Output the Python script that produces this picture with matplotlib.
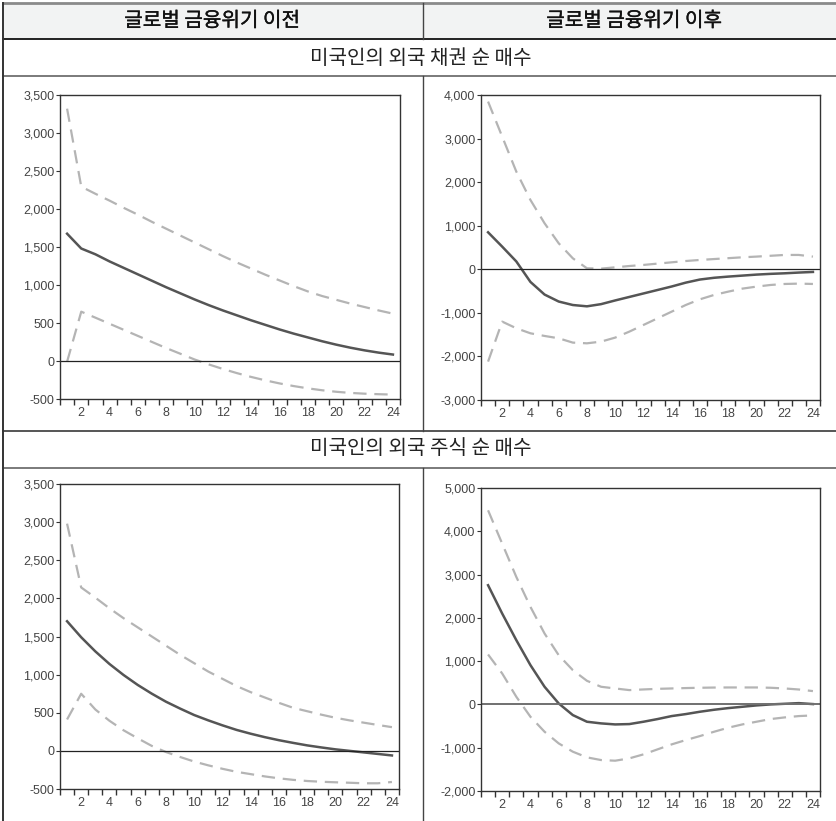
import matplotlib
matplotlib.use("Agg")
import matplotlib.pyplot as plt
import matplotlib.patheffects as pe
from matplotlib.lines import Line2D
from matplotlib.patches import Rectangle
from matplotlib.ticker import FuncFormatter, FixedLocator

W, H = 836, 821

# chart data (periods 1..24)
periods = list(range(1, 25))

header_left = "글로벌 금융위기 이전"
header_right = "글로벌 금융위기 이후"
row1_title = "미국인의 외국 채권 순 매수"
row2_title = "미국인의 외국 주식 순 매수"

# bonds, before crisis
bond_pre_mid = [1675, 1480, 1404, 1310, 1225, 1140, 1055, 970, 890, 810,
                735, 665, 600, 535, 475, 415, 360, 310, 260, 215,
                175, 140, 110, 85]
bond_pre_hi = [3320, 2294, 2200, 2110, 2015, 1925, 1830, 1740, 1650, 1560,
               1470, 1380, 1295, 1215, 1135, 1060, 985, 915, 855, 805,
               755, 710, 665, 623]
bond_pre_lo = [-10, 649, 570, 490, 410, 330, 250, 170, 95, 20,
               -45, -105, -160, -210, -255, -295, -330, -360, -385, -405,
               -420, -430, -437, -442]

# bonds, after crisis
bond_post_mid = [849, 520, 180, -290, -580, -740, -820, -850, -800, -715,
                 -635, -555, -475, -395, -306, -235, -195, -168, -145, -122,
                 -105, -92, -75, -61]
bond_post_hi = [3849, 3045, 2242, 1591, 1056, 597, 252, 23, 15, 45,
                75, 100, 130, 160, 190, 214, 235, 255, 275, 291,
                310, 329, 329, 291]
bond_post_lo = [-2119, -1201, -1354, -1469, -1530, -1584, -1683, -1699, -1660, -1568,
                -1431, -1278, -1125, -972, -819, -689, -589, -513, -444, -398,
                -360, -337, -329, -337]

# equities, before crisis
eq_pre_mid = [1700, 1490, 1305, 1140, 995, 865, 750, 645, 555, 470,
              400, 335, 275, 225, 180, 140, 105, 72, 45, 20,
              0, -20, -40, -60]
eq_pre_hi = [2980, 2143, 2010, 1870, 1740, 1620, 1500, 1380, 1260, 1150,
             1040, 945, 850, 770, 700, 630, 565, 520, 475, 434,
             400, 370, 340, 311]
eq_pre_lo = [412, 749, 543, 395, 270, 165, 65, -15, -80, -140,
             -190, -235, -275, -305, -335, -360, -380, -395, -405, -412,
             -418, -425, -425, -408]

# equities, after crisis
eq_post_mid = [2754, 2100, 1485, 908, 408, 23, -246, -400, -438, -462,
               -454, -400, -338, -269, -223, -169, -123, -85, -54, -23,
               0, 15, 30, 8]
eq_post_hi = [4485, 3715, 2946, 2254, 1638, 1138, 792, 546, 408, 369,
              331, 346, 360, 369, 378, 385, 390, 392, 392, 392,
              385, 369, 345, 308]
eq_post_lo = [1154, 715, 177, -285, -631, -900, -1092, -1223, -1285, -1300,
              -1246, -1154, -1038, -923, -823, -731, -631, -538, -462, -400,
              -338, -300, -269, -254]

ylims = [(-500, 3500), (-3000, 4000), (-500, 3500), (-2000, 5000)]
ysteps = [500, 1000, 500, 1000]

# panel boxes in pixels: left, top, right, bottom
boxes = [(60, 95, 400, 399), (481, 95, 820, 400),
         (60, 484, 399, 789), (481, 488, 820, 791)]

series = [(bond_pre_mid, bond_pre_hi, bond_pre_lo),
          (bond_post_mid, bond_post_hi, bond_post_lo),
          (eq_pre_mid, eq_pre_hi, eq_pre_lo),
          (eq_post_mid, eq_post_hi, eq_post_lo)]

fig = plt.figure(figsize=(W / 100, H / 100), dpi=100)
fig.patch.set_facecolor("white")


def fx(px):
    return px / W


def fy(py):
    return 1 - py / H


def hline(y, x0, x1, color, lw):
    fig.add_artist(Line2D([fx(x0), fx(x1)], [fy(y), fy(y)], color=color, lw=lw,
                          transform=fig.transFigure))


def vline(x, y0, y1, color, lw):
    fig.add_artist(Line2D([fx(x), fx(x)], [fy(y0), fy(y1)], color=color, lw=lw,
                          transform=fig.transFigure))


# table frame
fig.add_artist(Rectangle((fx(3), fy(39)), fx(836) - fx(3), fy(3) - fy(39),
                         transform=fig.transFigure, facecolor="#f2f3f3",
                         edgecolor="none"))
hline(3, 3, 836, "#8a8a8a", 2.0)
hline(39, 3, 836, "#222222", 1.4)
hline(76, 3, 836, "#7a7a7a", 1.4)
hline(431, 3, 836, "#555555", 1.4)
hline(468, 3, 836, "#7a7a7a", 1.4)
vline(3, 3, 821, "#333333", 1.4)
vline(423, 3, 39, "#444444", 1.0)
vline(423, 76, 431, "#444444", 1.0)
vline(423, 468, 821, "#444444", 1.0)

kfont = ["Noto Sans CJK KR", "DejaVu Sans"]
# header a touch heavier than the row titles
heavy = [pe.withStroke(linewidth=0.25, foreground="#111111")]
fig.text(fx(212), fy(21), header_left, ha="center", va="center", fontsize=14.5,
         family=kfont, color="#111111", path_effects=heavy)
fig.text(fx(634), fy(21), header_right, ha="center", va="center", fontsize=14.5,
         family=kfont, color="#111111", path_effects=heavy)
fig.text(fx(421), fy(58), row1_title, ha="center", va="center", fontsize=14.5,
         family=kfont, color="#222222")
fig.text(fx(421), fy(449), row2_title, ha="center", va="center", fontsize=14.5,
         family=kfont, color="#222222")

comma = FuncFormatter(lambda v, p: f"{int(v):,}")

for i, ((l, t, r, b), (mid, hi, lo), ylim, step) in enumerate(
        zip(boxes, series, ylims, ysteps)):
    ax = fig.add_axes([fx(l), fy(b), (r - l) / W, (b - t) / H])
    ax.plot(periods, hi, color="#b4b4b4", lw=1.6, dashes=(6, 3.5))
    ax.plot(periods, lo, color="#b4b4b4", lw=1.6, dashes=(6, 3.5))
    ax.plot(periods, mid, color="#555555", lw=1.8)
    if i == 3:
        ax.axhline(0, color="#707070", lw=1.4)
    else:
        ax.axhline(0, color="#222222", lw=0.9)
    ax.set_xlim(0.5, 24.5)
    ax.set_ylim(*ylim)
    ax.yaxis.set_major_locator(FixedLocator(range(ylim[0], ylim[1] + 1, step)))
    ax.yaxis.set_major_formatter(comma)
    ax.xaxis.set_major_locator(FixedLocator(range(2, 25, 2)))
    ax.xaxis.set_minor_locator(FixedLocator([k + 0.5 for k in range(0, 25)]))
    ax.tick_params(axis="x", which="major", length=0, pad=6)
    ax.tick_params(axis="x", which="minor", length=4, width=1, color="#333333",
                   direction="out")
    ax.tick_params(axis="y", length=3, width=0.8, color="#333333", pad=1)
    ax.tick_params(labelsize=9, labelcolor="#444444")
    for lab in ax.get_xticklabels() + ax.get_yticklabels():
        lab.set_family("Liberation Sans")
    for s in ax.spines.values():
        s.set_color("#333333")
        s.set_linewidth(1.0)

fig.savefig("out.png", dpi=100)
